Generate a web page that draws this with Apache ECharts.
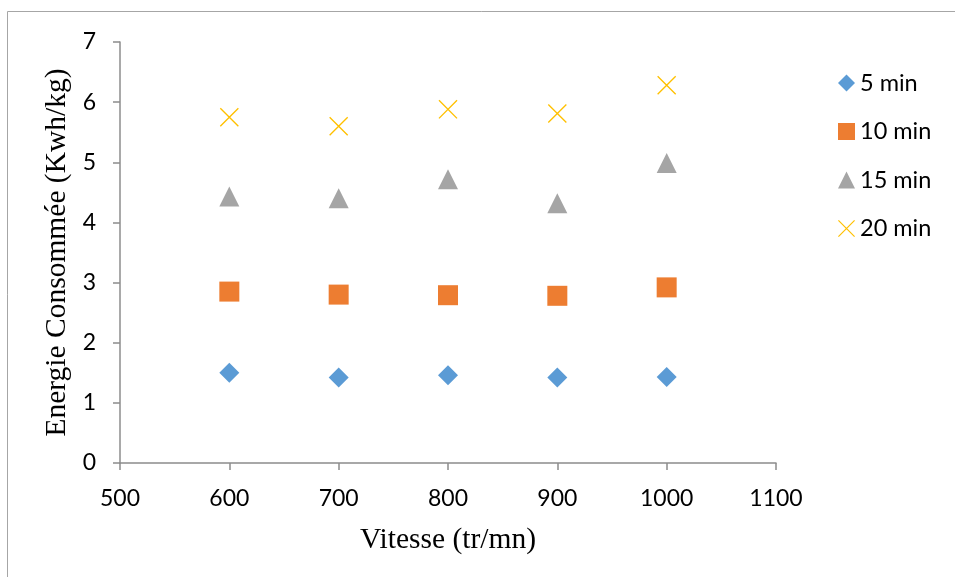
<!DOCTYPE html>
<html>
<head>
<meta charset="utf-8">
<script src="https://cdn.jsdelivr.net/npm/echarts@6/dist/echarts.min.js"></script>
<style>
  html, body { margin: 0; padding: 0; background: #ffffff; }
  #chart { width: 955px; height: 577px; }
</style>
</head>
<body>
<div id="chart"></div>
<script>
// Vitesse de rotation (tr/mn)
const vitesses = [600, 700, 800, 900, 1000];

// Énergie consommée (Kwh/kg) pour chaque durée
const energie5min  = [1.50, 1.42, 1.46, 1.42, 1.43];
const energie10min = [2.85, 2.80, 2.79, 2.78, 2.92];
const energie15min = [4.43, 4.40, 4.72, 4.32, 4.99];
const energie20min = [5.75, 5.60, 5.88, 5.81, 6.28];

const durees = ['5 min', '10 min', '15 min', '20 min'];

// Thin "x" glyph built from two filled diagonal strokes
const crossPath = 'path://M0,1L1,0L20,19L19,20ZM19,0L20,1L1,20L0,19Z';

const serieDefs = [
  { name: durees[0], values: energie5min,  symbol: 'diamond',  color: '#5B9BD5', size: 20 },
  { name: durees[1], values: energie10min, symbol: 'rect',     color: '#ED7D31', size: 20 },
  { name: durees[2], values: energie15min, symbol: 'triangle', color: '#A5A5A5', size: 20 },
  { name: durees[3], values: energie20min, symbol: crossPath,  color: '#FFC000', size: 19 }
];

const axisGray = '#8C8C8C';
const labelFont = 'Lato, Carlito, "Open Sans", sans-serif';
const titleFont = '"Liberation Serif", "Times New Roman", serif';

const chart = echarts.init(document.getElementById('chart'), null, { renderer: 'canvas' });

chart.setOption({
  backgroundColor: '#ffffff',
  animation: false,
  graphic: [{
    type: 'rect',
    shape: { x: 7.5, y: 11.5, width: 1000, height: 700 },
    style: { fill: 'none', stroke: '#A6A6A6', lineWidth: 1 },
    silent: true,
    z: -10
  }],
  grid: { left: 120, right: 179, top: 42, bottom: 114 },
  legend: {
    orient: 'vertical',
    left: 833,
    top: 66,
    itemWidth: 17,
    itemHeight: 17,
    itemGap: 24.5,
    textStyle: { fontFamily: labelFont, fontSize: 23.5, lineHeight: 22, color: '#000000' },
    data: serieDefs.map(s => ({ name: s.name, icon: s.symbol }))
  },
  xAxis: {
    type: 'value',
    min: 500,
    max: 1100,
    interval: 100,
    name: 'Vitesse (tr/mn)',
    nameLocation: 'middle',
    nameGap: 62,
    nameTextStyle: { fontFamily: titleFont, fontSize: 29.5, color: '#000000' },
    axisLine: { show: true, lineStyle: { color: axisGray, width: 1.5 } },
    axisTick: { show: true, inside: false, length: 7, lineStyle: { color: axisGray, width: 1.5 } },
    axisLabel: {
      margin: 24, fontFamily: labelFont, fontSize: 23, color: '#000000',
      formatter: v => String(v)
    },
    splitLine: { show: false }
  },
  yAxis: {
    type: 'value',
    min: 0,
    max: 7,
    interval: 1,
    name: 'Energie Consommée (Kwh/kg)',
    nameLocation: 'middle',
    nameGap: 46,
    nameRotate: 90,
    nameTextStyle: { fontFamily: titleFont, fontSize: 29.5, color: '#000000' },
    axisLine: { show: true, lineStyle: { color: axisGray, width: 1.5 } },
    axisTick: { show: true, inside: false, length: 7, lineStyle: { color: axisGray, width: 1.5 } },
    axisLabel: { margin: 24, fontFamily: labelFont, fontSize: 23, color: '#000000' },
    splitLine: { show: false }
  },
  series: serieDefs.map(s => ({
    type: 'scatter',
    name: s.name,
    symbol: s.symbol,
    symbolSize: s.size,
    itemStyle: { color: s.color, opacity: 1 },
    data: vitesses.map((v, i) => [v, s.values[i]])
  }))
});
</script>
</body>
</html>
